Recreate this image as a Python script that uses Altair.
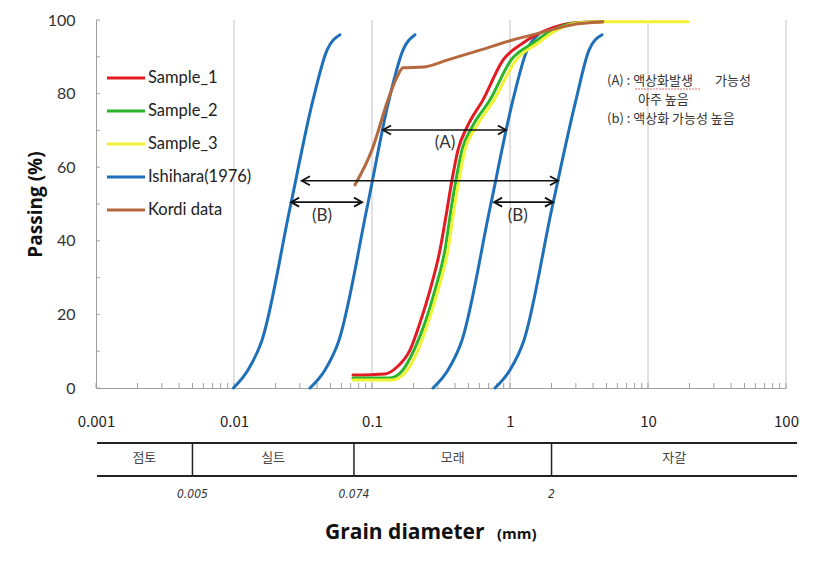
import altair as alt
import pandas as pd

# ---------------- data ----------------
series_names = ["Sample_1", "Sample_2", "Sample_3", "Ishihara(1976)", "Kordi data"]
series_colors = ["#e31b23", "#2bb52b", "#f2f235", "#1f70b8", "#b5683e"]

s1_d = [0.0728, 0.1242, 0.1517, 0.1884, 0.2225, 0.2632, 0.3110, 0.3496, 0.3799, 0.4200, 0.4881, 0.6372, 0.8897, 1.242, 1.854, 2.861, 4.70]
s1_p = [3.5, 3.8, 5.7, 10.3, 17.7, 26.6, 37.5, 48.4, 56.5, 64.7, 70.9, 78.3, 89.1, 93.75, 97.3, 99.2, 99.5]

s2_d = [0.0728, 0.1350, 0.1650, 0.2015, 0.2422, 0.2860, 0.3381, 0.3736, 0.4062, 0.4490, 0.5304, 0.7165, 1.017, 1.468, 2.049, 3.008, 4.70]
s2_p = [2.7, 2.7, 4.6, 10.3, 17.7, 26.6, 37.5, 48.4, 56.5, 64.7, 70.9, 78.3, 89.1, 93.75, 97.3, 99.2, 99.5]

s3_d = [0.0728, 0.1396, 0.1734, 0.2154, 0.2545, 0.3008, 0.3554, 0.3929, 0.4270, 0.4720, 0.5671, 0.7660, 1.105, 1.596, 2.190, 3.110, 4.70, 19.5]
s3_p = [2.2, 2.2, 4.1, 10.3, 17.7, 26.6, 37.5, 48.4, 56.5, 64.7, 70.9, 78.3, 89.1, 93.75, 97.3, 99.2, 99.5, 99.5]

ish1_d = [0.0099, 0.01263, 0.01596, 0.02546, 0.03737, 0.0472, 0.0586]
ish2_d = [0.03554, 0.04565, 0.05766, 0.0920, 0.1328, 0.1677, 0.2049]
ish3_d = [0.2767, 0.3554, 0.4490, 0.7165, 1.051, 1.328, 1.596]
ish4_d = [0.7786, 1.000, 1.263, 2.015, 3.008, 3.737, 4.642]
ish_p = [0.0, 4.9, 13.0, 48.9, 78.3, 91.8, 96.0]

kordi_d = [0.0753, 0.100, 0.1306, 0.1518, 0.1677, 0.2342, 0.3496, 0.6063, 1.051, 1.650, 2.721, 4.70]
kordi_p = [55.2, 64.7, 78.3, 84.5, 87.0, 87.2, 89.1, 91.8, 94.6, 96.5, 98.6, 99.5]

x_tick_values = [0.001, 0.01, 0.1, 1, 10, 100]
y_label_values = [0, 20, 40, 60, 80, 100]
y_minor_ticks = [0, 10, 20, 30, 40, 50, 60, 70, 80, 90, 100]
x_minor_ticks = [m * 10.0 ** e for e in range(-3, 2) for m in range(1, 10)] + [100]
grid_values = [0.01, 0.1, 1, 10, 100]

# liquefaction range arrows (y = passing %, from x1 to x2 in mm)
arrow_y = [70.1, 56.3, 50.5, 50.5]
arrow_x1 = [0.120, 0.031, 0.0259, 0.766]
arrow_x2 = [0.935, 2.23, 0.0848, 2.05]
arrow_lbl = ["(A)", "(B)", "(B)"]
arrow_lbl_x = [0.338, 0.0435, 1.14]
arrow_lbl_y = [66.6, 46.7, 46.7]

# soil classification table
class_names = ["점토", "실트", "모래", "자갈"]
class_x = [0.00224, 0.0192, 0.385, 15.5]
class_bounds = [0.005, 0.074, 2]
class_bound_lbl = ["0.005", "0.074", "2"]

note_parts = ["(A) : 액상화발생", "가능성", "아주 높음", "(b) : 액상화 가능성 높음"]

# ---------------- build tables ----------------
rows = []
def add(series, curve, ds, ps):
    for i, (d, p) in enumerate(zip(ds, ps)):
        rows.append({"series": series, "curve": curve, "idx": i, "d": d, "p": p})

add("Sample_1", "s1", s1_d, s1_p)
add("Sample_2", "s2", s2_d, s2_p)
add("Sample_3", "s3", s3_d, s3_p)
for k, ds in enumerate([ish1_d, ish2_d, ish3_d, ish4_d]):
    add("Ishihara(1976)", f"i{k}", ds, ish_p)
add("Kordi data", "k", kordi_d, kordi_p)
df = pd.DataFrame(rows)

xscale = alt.Scale(type="log", domain=[0.001, 100])
yscale = alt.Scale(domain=[0, 100])
cscale = alt.Scale(domain=series_names, range=series_colors)
AX_GRAY = "#a0a0a0"

xaxis = alt.Axis(values=x_tick_values, format="~g", title=None, ticks=False, tickSize=0,
                 grid=False, domainColor=AX_GRAY, domainWidth=1,
                 labelFont="Noto Sans CJK KR", labelFontSize=15, labelColor="#222",
                 labelPadding=33, labelBaseline="middle", labelFlush=False)
yaxis = alt.Axis(values=y_label_values, title="Passing (%)", ticks=False, tickSize=0,
                 grid=False, domainColor=AX_GRAY, domainWidth=1,
                 labelFont="Lato", labelFontSize=16, labelColor="#333", labelPadding=21,
                 titleFont="Open Sans", titleFontSize=19, titleFontWeight="bold", titleColor="#111",
                 titleX=-61, titleBaseline="middle")

def X(field):
    return alt.X(field, type="quantitative", scale=xscale, axis=xaxis)

def Y(field):
    return alt.Y(field, type="quantitative", scale=yscale, axis=yaxis)

# gridlines and right frame
grid = alt.Chart(pd.DataFrame({"g": grid_values, "y0": [0] * 5, "y1": [100] * 5})).mark_rule(
    color="#c4c4c4", strokeWidth=1).encode(x=X("g"), y=Y("y0"), y2="y1:Q")

xticks = alt.Chart(pd.DataFrame({"t": x_minor_ticks})).mark_rule(color=AX_GRAY).encode(
    x=X("t"), y=alt.value(368), y2=alt.value(363))
yticks = alt.Chart(pd.DataFrame({"t": y_minor_ticks})).mark_rule(color=AX_GRAY).encode(
    y=Y("t"), x=alt.value(0), x2=alt.value(4))

def series_layer(name):
    return alt.Chart(df).transform_filter(alt.datum.series == name).mark_line(
        strokeWidth=3, strokeJoin="round", strokeCap="round", interpolate="monotone").encode(
        x=X("d"), y=Y("p"),
        color=alt.Color("series:N", scale=cscale, legend=None),
        detail="curve:N", order="idx:Q")

lines = [series_layer("Ishihara(1976)"), series_layer("Sample_1"),
         series_layer("Sample_2"), series_layer("Sample_3"), series_layer("Kordi data")]

arr_df = pd.DataFrame({"y": arrow_y, "x1": arrow_x1, "x2": arrow_x2})
arr_rule = alt.Chart(arr_df).mark_rule(color="#111", strokeWidth=1.6).encode(
    x=X("x1"), x2="x2:Q", y=Y("y"))
head_l = alt.Chart(arr_df).mark_point(shape="M1.8,-1L0,0L1.8,1", filled=False, size=81,
                                      color="#111", strokeWidth=1.8, opacity=1).encode(
    x=X("x1"), y=Y("y"))
head_r = alt.Chart(arr_df).mark_point(shape="M-1.8,-1L0,0L-1.8,1", filled=False, size=81,
                                      color="#111", strokeWidth=1.8, opacity=1).encode(
    x=X("x2"), y=Y("y"))
arr_text = alt.Chart(pd.DataFrame({"t": arrow_lbl, "x": arrow_lbl_x, "y": arrow_lbl_y})).mark_text(
    font="Lato", fontSize=17, color="#333", baseline="middle").encode(
    x=X("x"), y=Y("y"), text="t:N")

one = pd.DataFrame({"a": [0]})

def px_text(txt, px, py, **kw):
    return alt.Chart(pd.DataFrame({"t": [txt]})).mark_text(**kw).encode(
        x=alt.value(px), y=alt.value(py), text="t:N")

note_layers = [px_text(txt, px, py, font="Noto Sans CJK KR", fontSize=13, color="#333",
                       align="left", baseline="middle")
               for txt, px, py in zip(note_parts, [511, 619, 542, 511], [61, 61, 80, 99])]
# red spell-check squiggle visible under the first note
squiggle = alt.Chart(one).mark_rule(color="#e07070", strokeWidth=1, strokeDash=[2, 1]).encode(
    x=alt.value(539), x2=alt.value(604), y=alt.value(69))

# soil table under the axis
tab_top = alt.Chart(one).mark_rule(color="#222", strokeWidth=2).encode(
    x=alt.value(1), x2=alt.value(701), y=alt.value(423))
tab_bot = alt.Chart(one).mark_rule(color="#222", strokeWidth=2).encode(
    x=alt.value(1), x2=alt.value(701), y=alt.value(456))
tab_div = alt.Chart(pd.DataFrame({"b": class_bounds})).mark_rule(color="#222", strokeWidth=1.5).encode(
    x=X("b"), y=alt.value(423), y2=alt.value(456))
tab_txt = alt.Chart(pd.DataFrame({"c": class_names, "x": class_x})).mark_text(
    font="Noto Sans CJK KR", fontSize=13, color="#444", baseline="middle").encode(
    x=X("x"), y=alt.value(438), text="c:N")
tab_bnd = alt.Chart(pd.DataFrame({"c": class_bound_lbl, "x": class_bounds})).mark_text(
    font="Liberation Sans Narrow, DejaVu Sans Condensed, Liberation Sans", fontSize=12,
    fontStyle="italic", color="#333", baseline="middle").encode(
    x=X("x"), y=alt.value(474), text="c:N")

xt1 = px_text("Grain diameter", 229, 513, font="Open Sans", fontSize=21, fontWeight="bold",
              color="#111", align="left", baseline="middle")
xt2 = px_text("(mm)", 401, 514, font="Open Sans", fontSize=15, fontWeight="bold",
              color="#111", align="left", baseline="middle")

# manual legend (one row per series)
leg_layers = []
for i, (name, col) in enumerate(zip(series_names, series_colors)):
    ypx = 58 + 33 * i
    leg_layers.append(alt.Chart(one).mark_rule(strokeWidth=3, color=col).encode(
        x=alt.value(11), x2=alt.value(49), y=alt.value(ypx)))
    leg_layers.append(px_text(name, 52, ypx, font="Lato", fontSize=16.5, color="#222",
                              align="left", baseline="middle"))

chart = alt.layer(grid, xticks, yticks, *lines, arr_rule, head_l, head_r, arr_text,
                  *note_layers, squiggle, tab_top, tab_bot, tab_div, tab_txt, tab_bnd, xt1, xt2,
                  *leg_layers).properties(
    width=690, height=368,
    autosize=alt.AutoSizeParams(type="none"),
    padding={"left": 88, "top": 12, "right": 26, "bottom": 166},
    background="white",
).configure_view(stroke=None)

chart.save("out.html", embed_options={"renderer": "svg", "actions": False})
